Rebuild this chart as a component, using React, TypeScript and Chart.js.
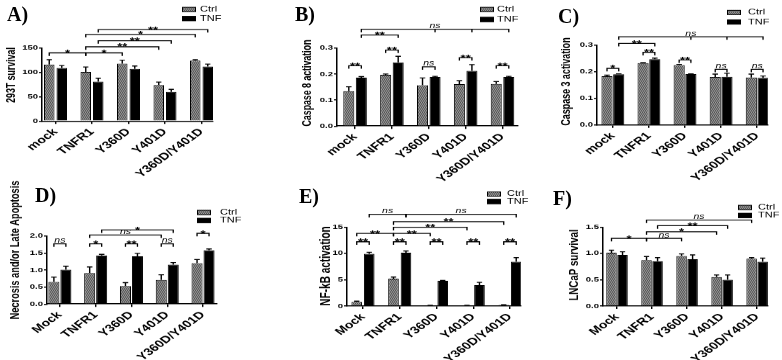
import React, { useEffect, useRef } from "react";
import { Chart, registerables } from "chart.js";

Chart.register(...registerables);

const SANS = '"Liberation Sans", Arial, Helvetica, sans-serif';
const SERIF = '"Liberation Serif", "Times New Roman", serif';

// Panels are laid out tall and then compressed vertically, like the printed figure
const SQUASH = 0.72;

const GROUPS_LOWER = ["mock", "TNFR1", "Y360D", "Y401D", "Y360D/Y401D"];
const GROUPS_UPPER = ["Mock", "TNFR1", "Y360D", "Y401D", "Y360D/Y401D"];
const SERIES_NAMES = ["Ctrl", "TNF"];

// Significance brackets: [group, series, group, series, level in axis units, mark, extra drop groups]

// A) 293T survival
const SURV293_CTRL = [116, 101, 118, 74, 124];
const SURV293_CTRL_ERR = [10, 10, 7, 6, 2];
const SURV293_TNF = [109, 81, 107, 60, 112];
const SURV293_TNF_ERR = [5, 7, 6, 5, 5];
const SURV293_SIG = [
  [0, 0, 1, 0, 140, "*"],
  [1, 0, 2, 0, 140, "*"],
  [1, 0, 3, 0, 152.6, "**"],
  [1, 1, 3, 1, 165, "**"],
  [1, 0, 4, 0, 178, "*"],
  [1, 1, 4, 1, 188, "**"],
];

// B) Caspase 8 activation
const CASP8_CTRL = [0.134, 0.197, 0.157, 0.161, 0.162];
const CASP8_CTRL_ERR = [0.017, 0.003, 0.028, 0.013, 0.009];
const CASP8_TNF = [0.186, 0.245, 0.189, 0.212, 0.189];
const CASP8_TNF_ERR = [0.004, 0.023, 0.002, 0.024, 0.002];
const CASP8_SIG = [
  [0, 1, 4, 1, 0.372, "ns", [2, 3]],
  [0, 1, 1, 1, 0.35, "**"],
  [0, 0, 0, 1, 0.232, "**"],
  [1, 0, 1, 1, 0.292, "**"],
  [2, 0, 2, 1, 0.228, "ns"],
  [3, 0, 3, 1, 0.263, "**"],
  [4, 0, 4, 1, 0.232, "**"],
];

// C) Caspase 3 activation
const CASP3_CTRL = [0.183, 0.232, 0.225, 0.18, 0.178];
const CASP3_CTRL_ERR = [0.004, 0.002, 0.002, 0.011, 0.013];
const CASP3_TNF = [0.19, 0.247, 0.191, 0.181, 0.177];
const CASP3_TNF_ERR = [0.002, 0.004, 0.001, 0.013, 0.007];
const CASP3_SIG = [
  [0, 1, 4, 1, 0.331, "ns", [2, 3]],
  [0, 1, 1, 1, 0.306, "**"],
  [0, 0, 0, 1, 0.2126, "*"],
  [1, 0, 1, 1, 0.2726, "**"],
  [2, 0, 2, 1, 0.244, "**"],
  [3, 0, 3, 1, 0.209, "ns"],
  [4, 0, 4, 1, 0.209, "ns"],
];

// D) Necrosis and/or late apoptosis
const NECRO_CTRL = [0.65, 0.91, 0.53, 0.71, 1.2];
const NECRO_CTRL_ERR = [0.14, 0.18, 0.1, 0.15, 0.11];
const NECRO_TNF = [1.01, 1.43, 1.4, 1.16, 1.58];
const NECRO_TNF_ERR = [0.1, 0.03, 0.09, 0.06, 0.04];
const NECRO_SIG = [
  [1, 1, 3, 1, 2.18, "*"],
  [1, 0, 3, 0, 2.03, "ns"],
  [0, 0, 0, 1, 1.77, "ns"],
  [1, 0, 1, 1, 1.77, "*"],
  [2, 0, 2, 1, 1.77, "**"],
  [3, 0, 3, 1, 1.77, "ns"],
  [4, 0, 4, 1, 2.08, "*"],
];

// E) NF-kB activation
const NFKB_CTRL = [0.8, 5.2, 0.12, 0.12, 0.2];
const NFKB_CTRL_ERR = [0.12, 0.3, 0.02, 0.02, 0.03];
const NFKB_TNF = [9.9, 10.1, 4.8, 3.95, 8.4];
const NFKB_TNF_ERR = [0.3, 0.35, 0.05, 0.55, 0.8];
const NFKB_SIG = [
  [0, 1, 1, 1, 17.4, "ns"],
  [1, 1, 4, 1, 17.4, "ns"],
  [1, 0, 4, 0, 16.0, "**"],
  [1, 0, 3, 0, 14.94, "**"],
  [0, 0, 1, 0, 13.8, "**"],
  [1, 0, 2, 0, 13.8, "**"],
  [0, 0, 0, 1, 12.2, "**"],
  [1, 0, 1, 1, 12.2, "**"],
  [2, 0, 2, 1, 12.2, "**"],
  [3, 0, 3, 1, 12.2, "**"],
  [4, 0, 4, 1, 12.2, "**"],
];

// F) LNCaP survival
const LNCAP_CTRL = [1.01, 0.87, 0.95, 0.55, 0.9];
const LNCAP_CTRL_ERR = [0.05, 0.07, 0.04, 0.04, 0.02];
const LNCAP_TNF = [0.97, 0.85, 0.89, 0.5, 0.84];
const LNCAP_TNF_ERR = [0.06, 0.07, 0.08, 0.09, 0.07];
const LNCAP_SIG = [
  [1, 0, 4, 0, 1.633, "ns"],
  [1, 1, 3, 1, 1.525, "**"],
  [1, 0, 3, 0, 1.411, "*"],
  [0, 0, 1, 0, 1.285, "*"],
  [1, 0, 2, 0, 1.285, "ns"],
];

const PANELS = [
  {
    letter: "A)", letterAt: [7, 21],
    box: { x: 0, y: 0, w: 260, h: 192 }, area: { l: 42, r: 213, t: 48, b: 121 },
    groups: GROUPS_LOWER,
    ctrl: SURV293_CTRL, ctrlErr: SURV293_CTRL_ERR, tnf: SURV293_TNF, tnfErr: SURV293_TNF_ERR, sig: SURV293_SIG,
    xMin: -0.37, xMax: 4.315, catPct: 0.685, barPct: 0.84,
    yMax: 150, yStep: 50, decimals: 0,
    title: "293T survival", titleSize: 12.2, titleAt: [11.5, 75],
    legend: { x: 182, y1: 9.5, y2: 18.5, tx: 200 },
  },
  {
    letter: "B)", letterAt: [295, 21],
    box: { x: 260, y: 0, w: 260, h: 192 }, area: { l: 337, r: 518, t: 48, b: 126 },
    groups: GROUPS_LOWER,
    ctrl: CASP8_CTRL, ctrlErr: CASP8_CTRL_ERR, tnf: CASP8_TNF, tnfErr: CASP8_TNF_ERR, sig: CASP8_SIG,
    xMin: -0.49, xMax: 4.42, catPct: 0.68, barPct: 0.88,
    yMax: 0.3, yStep: 0.1, decimals: 1,
    title: "Caspase 8 activation", titleSize: 12.2, titleAt: [307.5, 83],
    legend: { x: 480, y1: 9.5, y2: 19.5, tx: 497 },
  },
  {
    letter: "C)", letterAt: [558, 23],
    box: { x: 520, y: 0, w: 262, h: 192 }, area: { l: 597, r: 768, t: 45, b: 125 },
    groups: GROUPS_LOWER,
    ctrl: CASP3_CTRL, ctrlErr: CASP3_CTRL_ERR, tnf: CASP3_TNF, tnfErr: CASP3_TNF_ERR, sig: CASP3_SIG,
    xMin: -0.44, xMax: 4.3, catPct: 0.65, barPct: 0.95,
    yMax: 0.3, yStep: 0.1, decimals: 1,
    title: "Caspase 3 activation", titleSize: 12.4, titleAt: [567, 81.5],
    legend: { x: 727, y1: 12.5, y2: 22, tx: 748 },
  },
  {
    letter: "D)", letterAt: [35, 202],
    box: { x: 0, y: 180, w: 260, h: 180 }, area: { l: 47, r: 217, t: 236, b: 304 },
    groups: GROUPS_UPPER,
    ctrl: NECRO_CTRL, ctrlErr: NECRO_CTRL_ERR, tnf: NECRO_TNF, tnfErr: NECRO_TNF_ERR, sig: NECRO_SIG,
    xMin: -0.36, xMax: 4.39, catPct: 0.67, barPct: 0.92,
    yMax: 2, yStep: 0.5, decimals: 1,
    title: "Necrosis and/or Late Apoptosis", titleSize: 12.8, titleAt: [15, 250],
    legend: { x: 197, y1: 212.5, y2: 220.5, tx: 220 },
  },
  {
    letter: "E)", letterAt: [299, 203],
    box: { x: 260, y: 180, w: 280, h: 180 }, area: { l: 347, r: 521, t: 227, b: 306 },
    groups: GROUPS_UPPER,
    ctrl: NFKB_CTRL, ctrlErr: NFKB_CTRL_ERR, tnf: NFKB_TNF, tnfErr: NFKB_TNF_ERR, sig: NFKB_SIG,
    xMin: -0.435, xMax: 4.3, catPct: 0.68, barPct: 0.85,
    yMax: 15, yStep: 5, decimals: 0,
    title: "NF-kB activation", titleSize: 14, titleAt: [326, 266],
    legend: { x: 487, y1: 194, y2: 201.5, tx: 507 },
  },
  {
    letter: "F)", letterAt: [553, 205],
    box: { x: 520, y: 180, w: 262, h: 180 }, area: { l: 603, r: 768, t: 227, b: 306 },
    groups: GROUPS_UPPER,
    ctrl: LNCAP_CTRL, ctrlErr: LNCAP_CTRL_ERR, tnf: LNCAP_TNF, tnfErr: LNCAP_TNF_ERR, sig: LNCAP_SIG,
    xMin: -0.4, xMax: 4.31, catPct: 0.63, barPct: 0.95,
    yMax: 1.5, yStep: 0.5, decimals: 1,
    title: "LNCaP survival", titleSize: 13.5, titleAt: [574, 265],
    legend: { x: 738, y1: 207.5, y2: 215.5, tx: 758 },
  },
];

function makeHatch(ctx: CanvasRenderingContext2D) {
  const tile = document.createElement("canvas");
  tile.width = 2;
  tile.height = 2;
  const g = tile.getContext("2d")!;
  g.fillStyle = "#9c9c9c";
  g.fillRect(0, 0, 2, 2);
  g.fillStyle = "#505050";
  g.fillRect(0, 0, 1, 1);
  g.fillRect(1, 1, 1, 1);
  return ctx.createPattern(tile, "repeat") as CanvasPattern;
}

function Panel({ spec }: { spec: any }) {
  const ref = useRef<HTMLCanvasElement | null>(null);
  const canvasH = Math.round(spec.box.h / SQUASH);
  const k = spec.box.h / canvasH;

  useEffect(() => {
    const canvas = ref.current!;
    const ctx = canvas.getContext("2d")!;
    const hatch = makeHatch(ctx);
    const cx = (px: number) => px - spec.box.x;
    const cy = (py: number) => (py - spec.box.y) / k;
    const areaL = cx(spec.area.l);
    const areaR = cx(spec.area.r);
    const areaT = cy(spec.area.t);
    const areaB = cy(spec.area.b);
    const values = [spec.ctrl, spec.tnf];
    const errors = [spec.ctrlErr, spec.tnfErr];

    const decor = {
      id: "decor",
      afterDatasetsDraw(chart: any) {
        const c = chart.ctx;
        const yS = chart.scales.y;
        c.save();
        c.strokeStyle = "#000";
        c.lineWidth = 1.4;
        [0, 1].forEach((s) => {
          chart.getDatasetMeta(s).data.forEach((bar: any, i: number) => {
            const { x, y, width } = bar.getProps(["x", "y", "width"], true);
            const top = yS.getPixelForValue(values[s][i] + errors[s][i]);
            c.beginPath();
            c.moveTo(x, y);
            c.lineTo(x, top);
            c.moveTo(x - width / 4, top);
            c.lineTo(x + width / 4, top);
            c.stroke();
          });
        });
        c.restore();
      },
      afterDraw(chart: any) {
        const c = chart.ctx;
        const yS = chart.scales.y;
        const barX = (g: number, s: number) => chart.getDatasetMeta(s).data[g].x;
        const drop = 4.2;
        c.save();
        c.strokeStyle = "#000";
        c.fillStyle = "#000";
        c.lineWidth = 1.3;
        for (const item of spec.sig) {
          const [g1, s1, g2, s2, lvl, mark, drops] = item;
          const x1 = barX(g1, s1);
          const x2 = barX(g2, s2);
          const y = yS.getPixelForValue(lvl);
          c.beginPath();
          c.moveTo(x1, y + drop);
          c.lineTo(x1, y);
          c.lineTo(x2, y);
          c.lineTo(x2, y + drop);
          (drops || []).forEach((g: number) => {
            const xd = barX(g, s2);
            c.moveTo(xd, y);
            c.lineTo(xd, y + drop);
          });
          c.stroke();
          const mx = (x1 + x2) / 2;
          c.textAlign = "center";
          c.textBaseline = "alphabetic";
          if (mark === "ns") {
            c.font = `italic 10.5px ${SANS}`;
            c.fillText(mark, mx, y - 1.5);
          } else {
            c.font = `bold 13px ${SANS}`;
            c.fillText(mark, mx, y + 4.5);
          }
        }

        // legend
        const lg = spec.legend;
        [lg.y1, lg.y2].forEach((py: number, i: number) => {
          const yc = cy(py);
          const bx = cx(lg.x);
          c.fillStyle = i === 0 ? hatch : "#000";
          c.fillRect(bx, yc - 3.5, 14, 7);
          c.lineWidth = 1;
          c.strokeRect(bx + 0.5, yc - 3, 13, 6);
          c.fillStyle = "#000";
          c.font = `11px ${SANS}`;
          c.textAlign = "left";
          c.textBaseline = "middle";
          c.fillText(SERIES_NAMES[i], cx(lg.tx), yc);
        });

        // y axis caption
        c.translate(cx(spec.titleAt[0]), cy(spec.titleAt[1]));
        c.rotate(-Math.PI / 2);
        c.font = `bold ${spec.titleSize}px ${SANS}`;
        c.textAlign = "center";
        c.textBaseline = "middle";
        c.fillStyle = "#000";
        c.fillText(spec.title, 0, 0);
        c.restore();
      },
    };

    const chart = new Chart(canvas, {
      type: "bar",
      data: {
        datasets: [0, 1].map((s) => ({
          label: SERIES_NAMES[s],
          data: values[s].map((v: number, i: number) => ({ x: i, y: v })),
          backgroundColor: s === 0 ? hatch : "#000",
          borderColor: "#000",
          borderWidth: 1,
          categoryPercentage: spec.catPct,
          barPercentage: spec.barPct,
        })),
      },
      options: {
        responsive: false,
        animation: false,
        devicePixelRatio: 1,
        events: [],
        layout: { padding: { left: 0, top: areaT, right: spec.box.w - areaR, bottom: 0 } },
        plugins: { legend: { display: false }, tooltip: { enabled: false } },
        scales: {
          x: {
            type: "linear",
            min: spec.xMin,
            max: spec.xMax,
            offset: false,
            afterBuildTicks: (scale: any) => {
              scale.ticks = spec.groups.map((_: string, i: number) => ({ value: i }));
            },
            afterFit: (scale: any) => {
              scale.height = canvasH - areaB;
            },
            ticks: {
              autoSkip: false,
              minRotation: 45,
              maxRotation: 45,
              padding: 3,
              color: "#000",
              font: { family: SANS, size: 14, weight: "bold" },
              callback: (v: any) => spec.groups[v] ?? "",
            },
            grid: { display: true, drawOnChartArea: false, drawTicks: true, tickLength: 4, color: "#000", lineWidth: 1.4, offset: false },
            border: { display: true, color: "#000", width: 1.5 },
          },
          y: {
            min: 0,
            max: spec.yMax,
            afterFit: (scale: any) => {
              scale.width = areaL;
            },
            ticks: {
              stepSize: spec.yStep,
              padding: 1,
              color: "#000",
              font: { family: SANS, size: 9.5, weight: "bold" },
              callback: (v: any) => Number(v).toFixed(spec.decimals),
            },
            grid: { display: true, drawOnChartArea: false, drawTicks: true, tickLength: 3, color: "#000", lineWidth: 1.4 },
            border: { display: true, color: "#000", width: 1.5 },
          },
        },
      },
      plugins: [decor],
    } as any);
    return () => chart.destroy();
  }, [spec]);

  return (
    <div
      style={{
        position: "absolute",
        left: spec.box.x,
        top: spec.box.y,
        width: spec.box.w,
        height: canvasH,
        transform: `scaleY(${k})`,
        transformOrigin: "0 0",
      }}
    >
      <canvas ref={ref} width={spec.box.w} height={canvasH} style={{ display: "block", width: spec.box.w, height: canvasH }} />
    </div>
  );
}

export default function App() {
  return (
    <div style={{ position: "fixed", left: 0, top: 0, width: 782, height: 360, background: "#fff", overflow: "hidden" }}>
      {PANELS.map((p) => (
        <Panel key={p.letter} spec={p} />
      ))}
      {PANELS.map((p) => (
        <div
          key={"t" + p.letter}
          style={{
            position: "absolute",
            left: p.letterAt[0],
            top: p.letterAt[1] - 16.75,
            font: `bold 20px ${SERIF}`,
            lineHeight: "20px",
            color: "#000",
            whiteSpace: "nowrap",
          }}
        >
          {p.letter}
        </div>
      ))}
    </div>
  );
}
